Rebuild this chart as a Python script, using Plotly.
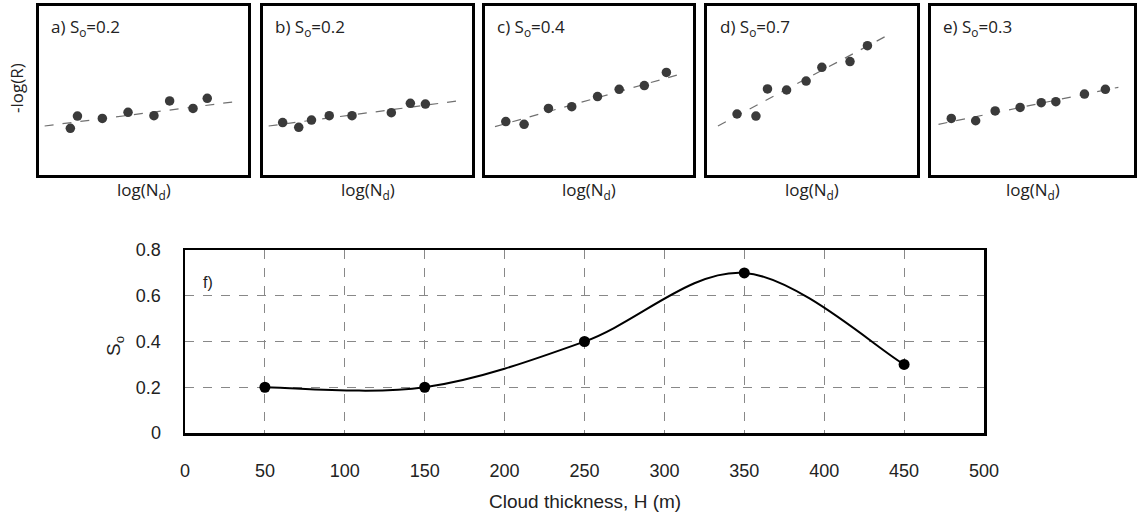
import plotly.graph_objects as go

W, H = 1139, 517

# ---- top panels data (normalized log units) ----
panel_labels = ["a)", "b)", "c)", "d)", "e)"]
panel_so = ["0.2", "0.2", "0.4", "0.7", "0.3"]

a_x = [0.15, 0.184, 0.303, 0.426, 0.55, 0.625, 0.737, 0.805]
a_y = [0.276, 0.349, 0.335, 0.371, 0.351, 0.438, 0.394, 0.454]
b_x = [0.094, 0.171, 0.232, 0.317, 0.426, 0.614, 0.705, 0.777]
b_y = [0.31, 0.282, 0.325, 0.351, 0.351, 0.369, 0.424, 0.42]
c_x = [0.10, 0.188, 0.305, 0.417, 0.541, 0.645, 0.766, 0.872]
c_y = [0.316, 0.30, 0.394, 0.404, 0.464, 0.507, 0.529, 0.607]
d_x = [0.143, 0.233, 0.288, 0.379, 0.472, 0.547, 0.681, 0.764]
d_y = [0.361, 0.349, 0.509, 0.503, 0.556, 0.637, 0.671, 0.765]
e_x = [0.10, 0.22, 0.316, 0.439, 0.543, 0.615, 0.756, 0.859]
e_y = [0.335, 0.321, 0.379, 0.40, 0.428, 0.434, 0.479, 0.507]

# fitted trend line endpoints per panel
fit_x = [[0.027, 0.94], [0.027, 0.941], [0.048, 0.955], [0.052, 0.862], [0.037, 0.923]]
fit_y = [[0.29, 0.434], [0.29, 0.44], [0.286, 0.602], [0.29, 0.828], [0.30, 0.519]]

# ---- bottom panel data ----
thickness = [50, 150, 250, 350, 450]
so_values = [0.2, 0.2, 0.4, 0.7, 0.3]
x_ticks = [0, 50, 100, 150, 200, 250, 300, 350, 400, 450, 500]
y_ticks = [0, 0.2, 0.4, 0.6, 0.8]

px_x = lambda p: p / W
px_y = lambda p: 1 - p / H

panel_px = [(39, 248), (263, 472), (485, 693), (707, 917), (931, 1134)]
top_dom = [px_y(175), px_y(6)]

fig = go.Figure()
xs = [a_x, b_x, c_x, d_x, e_x]
ys = [a_y, b_y, c_y, d_y, e_y]
layout = {}
annotations = []
for i in range(5):
    n = i + 1
    xa = "x" if n == 1 else f"x{n}"
    ya = "y" if n == 1 else f"y{n}"
    fig.add_trace(go.Scatter(x=fit_x[i], y=fit_y[i], xaxis=xa, yaxis=ya, mode="lines",
                             line=dict(color="#707070", width=1.2, dash="dash"),
                             showlegend=False, hoverinfo="skip"))
    fig.add_trace(go.Scatter(x=xs[i], y=ys[i], xaxis=xa, yaxis=ya, mode="markers",
                             marker=dict(color="#3a3a3a", size=9.5),
                             showlegend=False))
    axcommon = dict(range=[0, 1], showgrid=False, zeroline=False, showticklabels=False,
                    ticks="", showline=True, mirror=True, linecolor="black", linewidth=3,
                    fixedrange=True, automargin=False)
    key_x = "xaxis" if n == 1 else f"xaxis{n}"
    key_y = "yaxis" if n == 1 else f"yaxis{n}"
    layout[key_x] = dict(domain=[px_x(panel_px[i][0]), px_x(panel_px[i][1])], anchor=ya, **axcommon)
    layout[key_y] = dict(domain=top_dom, anchor=xa, **axcommon)
    annotations.append(dict(xref=f"{xa} domain", yref=f"{ya} domain", x=0.05, y=0.87,
                            xanchor="left", yanchor="middle", showarrow=False,
                            text=f"{panel_labels[i]} S<sub>o</sub>={panel_so[i]}",
                            font=dict(family="Open Sans", size=17, color="#222")))
    annotations.append(dict(xref="paper", yref="paper",
                            x=px_x((panel_px[i][0] + panel_px[i][1]) / 2), y=px_y(190),
                            xanchor="center", yanchor="middle", showarrow=False,
                            text="log(N<sub>d</sub>)",
                            font=dict(family="Open Sans", size=17, color="#222")))

annotations.append(dict(xref="paper", yref="paper", x=px_x(16), y=px_y(88),
                        xanchor="center", yanchor="middle", showarrow=False, textangle=-90,
                        text="-log(R)", font=dict(family="Open Sans", size=17, color="#222")))

# bottom panel: smooth (Excel-style Catmull-Rom Bezier) curve built from the data points
pts = list(zip(thickness, so_values))
path = f"M {pts[0][0]},{pts[0][1]}"
for k in range(len(pts) - 1):
    p0 = pts[k - 1] if k > 0 else pts[k]
    p1 = pts[k]
    p2 = pts[k + 1]
    p3 = pts[k + 2] if k + 2 < len(pts) else pts[k + 1]
    c1 = (p1[0] + (p2[0] - p0[0]) / 6, p1[1] + (p2[1] - p0[1]) / 6)
    c2 = (p2[0] - (p3[0] - p1[0]) / 6, p2[1] - (p3[1] - p1[1]) / 6)
    path += f" C {c1[0]},{c1[1]} {c2[0]},{c2[1]} {p2[0]},{p2[1]}"

fig.add_trace(go.Scatter(x=thickness, y=so_values, xaxis="x6", yaxis="y6",
                         mode="markers",
                         marker=dict(color="black", size=11),
                         showlegend=False))
shapes = [dict(type="path", xref="x6", yref="y6", path=path, layer="above",
               line=dict(color="black", width=2))]

layout["xaxis6"] = dict(domain=[px_x(185), px_x(984)], anchor="y6", range=[0, 500],
                        tickvals=x_ticks, ticks="", showgrid=True, gridcolor="#888",
                        griddash="dash", gridwidth=1, zeroline=False, showline=True,
                        mirror=True, linecolor="black", linewidth=2.5,
                        ticklabelstandoff=20, automargin=False, fixedrange=True,
                        tickfont=dict(family="Liberation Sans", size=18, color="#222"))
layout["yaxis6"] = dict(domain=[px_y(433), px_y(250)], anchor="x6", range=[0, 0.8],
                        tickvals=y_ticks, ticktext=["0", "0.2", "0.4", "0.6", "0.8"],
                        ticks="", showgrid=True, gridcolor="#888",
                        griddash="dash", gridwidth=1, zeroline=False, showline=True,
                        mirror=True, linecolor="black", linewidth=2.5,
                        ticklabelstandoff=18, automargin=False, fixedrange=True,
                        tickfont=dict(family="Liberation Sans", size=18, color="#222"))
annotations.append(dict(xref="x6 domain", yref="y6 domain", x=0.02, y=0.825,
                        xanchor="left", yanchor="middle", showarrow=False, text="f)",
                        font=dict(family="Liberation Sans", size=16, color="#222")))
annotations.append(dict(xref="paper", yref="paper", x=px_x(585), y=px_y(501),
                        xanchor="center", yanchor="middle", showarrow=False,
                        text="Cloud thickness, H (m)",
                        font=dict(family="Liberation Sans", size=19, color="#222")))
annotations.append(dict(xref="paper", yref="paper", x=px_x(115), y=px_y(346),
                        xanchor="center", yanchor="middle", showarrow=False, textangle=-90,
                        text="S<sub>o</sub>",
                        font=dict(family="Liberation Sans", size=19, color="#222")))

fig.update_layout(width=W, height=H, margin=dict(l=0, r=0, t=0, b=0, pad=0),
                  paper_bgcolor="white", plot_bgcolor="white", hovermode=False,
                  annotations=annotations, shapes=shapes, **layout)

fig.write_html("out.html", config={"displayModeBar": False, "staticPlot": True},
               post_script="document.body.style.margin='0';document.body.style.overflow='hidden';")
